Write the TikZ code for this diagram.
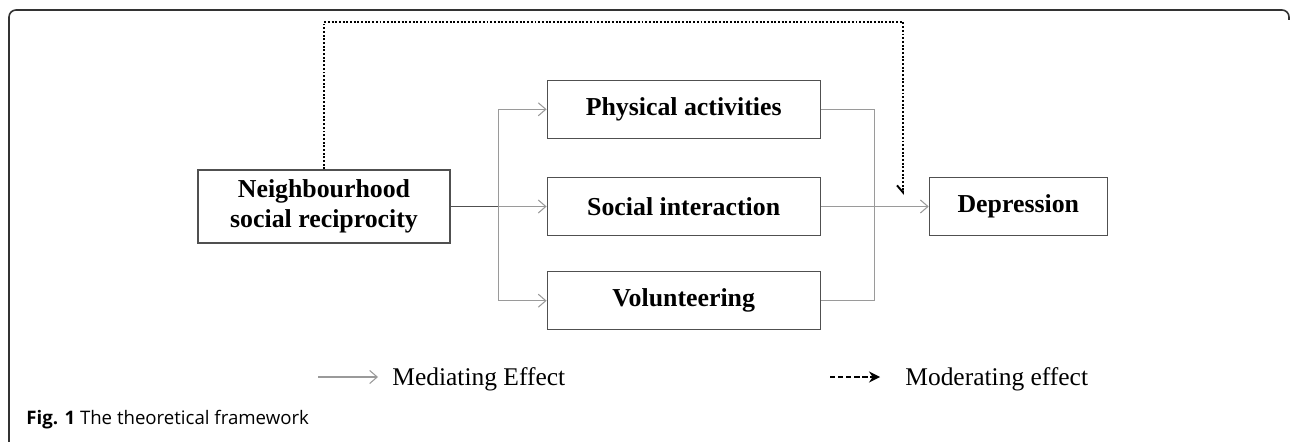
\documentclass[tikz,border=0pt]{standalone}
\usepackage{fontspec}
\setmainfont{Liberation Serif}
\newfontfamily\capfont{Open Sans}
\usetikzlibrary{arrows.meta,positioning,calc}
\definecolor{boxline}{HTML}{505050}
\definecolor{medline}{HTML}{9A9A9A}

\begin{document}
\begin{tikzpicture}[
  x=0.02cm, y=-0.02cm,
  node distance=7.6mm and 19.2mm,
  var/.style={draw=boxline, line width=0.7pt, align=center, font=\fontsize{14.7}{16.8}\selectfont\bfseries, inner sep=0pt, minimum height=11.6mm, minimum width=54.6mm},
  med/.style={draw=medline, line width=0.6pt},
  arr/.style={med, -{Straight Barb[length=1.5mm, width=2.6mm]}},
  mod/.style={densely dotted, line width=1.1pt, -{Straight Barb[harpoon, swap, length=1.4mm, width=2.4mm]}},
  lbl/.style={font=\fontsize{14.5}{17}\selectfont, anchor=west, inner sep=0pt}
]
\useasboundingbox (0,0) rectangle (1290,442);
% frame
\draw[black!80, line width=0.9pt, rounded corners=4pt] (9,442) -- (9,10) -- (1289,10) -- (1289,20);
% variables
\node[var, minimum width=50.4mm, minimum height=14.6mm] (nsr) at (324,206.5) {Neighbourhood\\social reciprocity};
\node[var, right=of nsr] (si) {Social interaction};
\node[var, above=of si] (pa) {Physical activities};
\node[var, below=7mm of si] (vol) {Volunteering};
\node[var, minimum width=35.6mm, right=21.6mm of si] (dep) {Depression};
\coordinate (jl) at ($(nsr.east)+(48,0)$);
\coordinate (jr) at ($(si.east)+(54,0)$);
% mediating paths
\draw[boxline, line width=0.6pt] (nsr.east) -- (jl);
\draw[med] (jl |- pa.west) -- (jl |- vol.west);
\draw[med] (jr |- pa.east) -- (jr |- vol.east);
\foreach \m in {pa,si,vol} {\draw[arr] (jl |- \m.west) -- (\m.west); \draw[med] (\m.east) -- (jr |- \m.east);}
\draw[arr] (jr) -- (dep.west);
% moderating path
\coordinate (modtop) at (903,22);
\coordinate (modend) at (903,195);
\draw[mod] (nsr.north) |- (modtop) -- (modend);
% legend
\coordinate (ml) at (318,377);
\coordinate (dl) at (830,377);
\node[lbl] (medtxt) at (392,379) {Mediating Effect};
\node[lbl] (modtxt) at (905,379) {Moderating effect};
\draw[arr] (ml) -- (ml -| medtxt.west) [shorten >=0.28cm];
\draw[dash pattern=on 3pt off 1.6pt, line width=1pt, -{Stealth[length=2.2mm, width=2.2mm]}, shorten >=0.5cm] (dl) -- (dl -| modtxt.west);
% caption
\node[anchor=base west, inner sep=0pt, font=\capfont\fontsize{10.6}{13}\selectfont] (cap) at (26,424) {\textbf{Fig. 1} The theoretical framework};
\end{tikzpicture}
\end{document}
